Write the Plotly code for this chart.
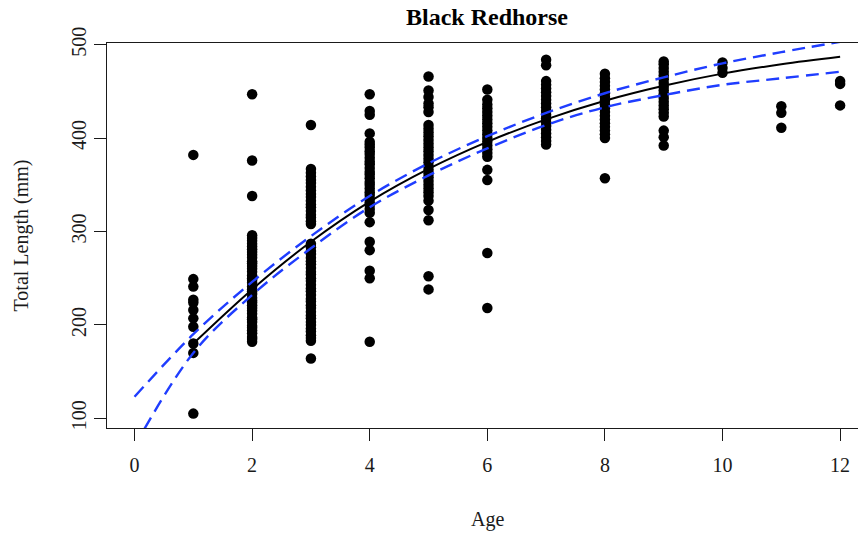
import plotly.graph_objects as go

# Observed total lengths (mm) by age (years)
ages = list(range(1, 13))
lengths_by_age = {
    1: [105, 170, 180, 198, 207, 216, 224, 227, 241, 249, 382],
    2: [182, 185, 187, 191, 194, 197, 199, 203, 206, 208, 212, 215, 218, 221,
        224, 226, 229, 233, 236, 238, 241, 245, 248, 250, 253, 257, 260, 263,
        266, 268, 272, 275, 278, 281, 284, 287, 290, 293, 296, 338, 376, 447],
    3: [164, 183, 186, 189, 193, 196, 200, 203, 207, 210, 214, 218, 221, 225,
        228, 232, 236, 239, 243, 247, 250, 254, 257, 261, 265, 268, 272, 276,
        279, 283, 287, 308, 311, 315, 318, 322, 326, 329, 333, 337, 340, 344,
        348, 352, 355, 359, 363, 367, 414],
    4: [182, 250, 258, 280, 289, 310, 320, 324, 328, 331, 335, 339, 342, 346,
        350, 353, 357, 361, 364, 368, 372, 375, 379, 383, 386, 390, 393, 396,
        405, 425, 429, 447],
    5: [238, 252, 312, 323, 333, 338, 342, 346, 350, 354, 358, 362, 366, 370,
        374, 378, 382, 386, 390, 394, 398, 402, 406, 410, 414, 428, 433, 437,
        444, 451, 466],
    6: [218, 277, 355, 366, 380, 384, 388, 392, 396, 400, 404, 408, 412, 416,
        420, 424, 428, 432, 436, 441, 452],
    7: [393, 397, 401, 405, 409, 413, 417, 421, 425, 429, 433, 437, 441, 445,
        449, 453, 457, 461, 478, 484],
    8: [357, 400, 404, 408, 412, 416, 420, 424, 428, 432, 436, 440, 444, 448,
        452, 456, 460, 464, 469],
    9: [392, 401, 408, 423, 427, 431, 435, 439, 443, 447, 451, 455, 459, 463,
        467, 471, 475, 479, 482],
    10: [470, 475, 481],
    11: [411, 427, 434],
    12: [435, 458, 461],
}

# Fitted growth curve and its confidence band
fit_ages = [1, 2, 3, 4, 5, 6, 7, 8, 9, 10, 11, 12]
fit_length = [180, 238, 289, 332, 367, 396, 420, 440, 456, 469, 479, 487]
band_ages = [0, 1, 2, 3, 4, 5, 6, 7, 8, 9, 10, 11, 12]
band_upper = [123, 190, 246, 295, 338, 373, 402, 427, 448, 465, 480, 492, 503]
band_lower = [70, 170, 232, 282, 326, 360, 389, 414, 433, 446, 457, 464, 471]

x_ticks = [0, 2, 4, 6, 8, 10, 12]
y_ticks = [100, 200, 300, 400, 500]

FONT = "Liberation Serif"
INK = "#1a1a1a"
BLUE = "#1f3dff"

pts_x, pts_y = [], []
for a in ages:
    for v in lengths_by_age[a]:
        pts_x.append(a)
        pts_y.append(v)

fig = go.Figure()
fig.add_trace(go.Scatter(
    x=pts_x, y=pts_y, mode="markers",
    marker=dict(color="black", size=10.5, line=dict(width=0)),
    hoverinfo="x+y", showlegend=False,
))
fig.add_trace(go.Scatter(
    x=fit_ages, y=fit_length, mode="lines",
    line=dict(color="black", width=2, shape="spline", smoothing=1.0),
    showlegend=False,
))
for band in (band_upper, band_lower):
    fig.add_trace(go.Scatter(
        x=band_ages, y=band, mode="lines",
        line=dict(color=BLUE, width=2.4, dash="13px,7px", shape="spline", smoothing=1.0),
        showlegend=False,
    ))

fig.update_layout(
    width=858, height=533,
    margin=dict(l=107, r=0, t=43, b=105),
    paper_bgcolor="white", plot_bgcolor="white",
    font=dict(family=FONT, size=20, color=INK),
    showlegend=False,
)
fig.update_xaxes(
    range=[-0.468, 12.304],
    tickmode="array", tickvals=x_ticks, ticktext=[str(t) for t in x_ticks],
    ticks="outside", ticklen=12, tickwidth=1.3, tickcolor=INK,
    ticklabelstandoff=7,
    showline=True, linecolor=INK, linewidth=1.3, mirror=True,
    showgrid=False, zeroline=False,
    tickfont=dict(family=FONT, size=20, color=INK),
)
fig.update_yaxes(
    range=[89.6, 501.8],
    tickmode="array", tickvals=y_ticks, ticktext=[str(t) for t in y_ticks],
    tickangle=-90,
    ticks="outside", ticklen=12, tickwidth=1.3, tickcolor=INK,
    showline=True, linecolor=INK, linewidth=1.3, mirror=False,
    showgrid=False, zeroline=False,
    tickfont=dict(family=FONT, size=20, color=INK),
)

fig.add_annotation(
    text="<b>Black Redhorse</b>", xref="x", yref="paper",
    x=6, y=1.0675, xanchor="center", yanchor="middle",
    showarrow=False, font=dict(family=FONT, size=24, color="black"),
)
fig.add_annotation(
    text="Age", xref="x", yref="paper",
    x=6, y=-0.2364, xanchor="center", yanchor="middle",
    showarrow=False, font=dict(family=FONT, size=20, color=INK),
)
fig.add_annotation(
    text="Total Length (mm)", xref="paper", yref="paper",
    x=-0.1132, y=0.5, xanchor="center", yanchor="middle", textangle=-90,
    showarrow=False, font=dict(family=FONT, size=20, color=INK),
)

fig.write_html("out.html")
